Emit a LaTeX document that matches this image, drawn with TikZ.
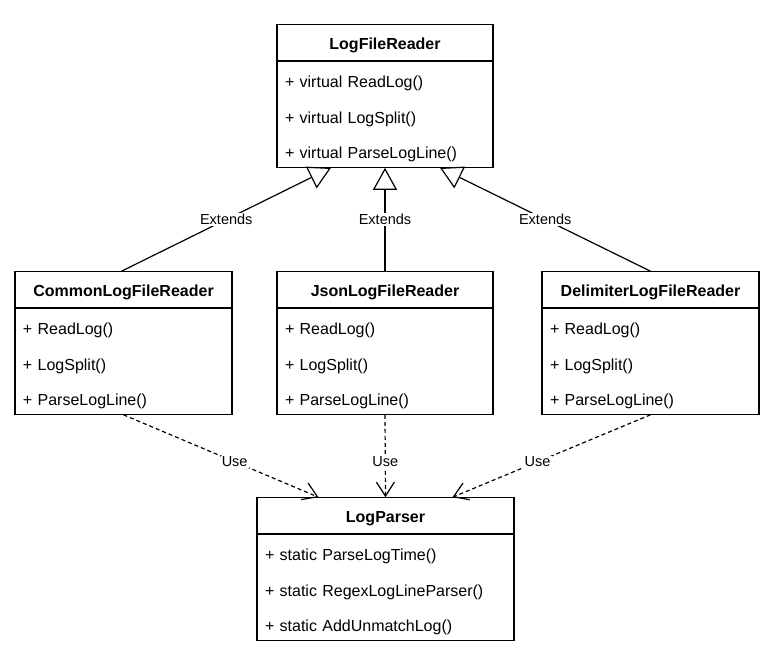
\documentclass[tikz,border=0pt]{standalone}
\usepackage{fontspec}
\setmainfont{Liberation Sans}
\usetikzlibrary{positioning, arrows.meta, shapes.multipart}
\tikzset{
    umlclass/.style={draw, line width=1.2pt, rectangle split, rectangle split parts=2, fill=white, inner xsep=8pt, inner ysep=0pt, align=left, font=\fontsize{16}{35.5}\selectfont},
    extarrow/.style={-{Triangle[open, length=22pt, width=24pt, fill=white]}, line width=1.2pt},
    usearrow/.style={-{Straight Barb[length=14pt, width=18pt]}, line width=1.2pt, dash pattern=on 4pt off 3pt},
    rellbl/.style={font=\fontsize{14.5}{17}\selectfont, fill=white, inner sep=1pt},
}
\newcommand{\clsname}[1]{\noindent\hbox to\hsize{\hfil\rule[-11pt]{0pt}{35pt}\textbf{#1}\hfil}}
\newcommand{\firstrow}{\rule{0pt}{26pt}}
\newcommand{\lastrow}{\rule[-8pt]{0pt}{8pt}}
\begin{document}
\begin{tikzpicture}[x=1pt, y=-1pt]
    \useasboundingbox (0,0) rectangle (780,662);
    \node[umlclass, text width=200pt] (lfr) at (385,96)    {\clsname{LogFileReader}\nodepart{second}\firstrow+ virtual ReadLog()\\+ virtual LogSplit()\\+ virtual ParseLogLine()\lastrow};
    \node[umlclass, text width=201pt] (cmn) at (123.5,343) {\clsname{CommonLogFileReader}\nodepart{second}\firstrow+ ReadLog()\\+ LogSplit()\\+ ParseLogLine()\lastrow};
    \node[umlclass, text width=200pt] (jsn) at (385,343)   {\clsname{JsonLogFileReader}\nodepart{second}\firstrow+ ReadLog()\\+ LogSplit()\\+ ParseLogLine()\lastrow};
    \node[umlclass, text width=201pt] (dlm) at (650.5,343) {\clsname{DelimiterLogFileReader}\nodepart{second}\firstrow+ ReadLog()\\+ LogSplit()\\+ ParseLogLine()\lastrow};
    \node[umlclass, text width=241pt] (lps) at (385.5,569) {\clsname{LogParser}\nodepart{second}\firstrow+ static ParseLogTime()\\+ static RegexLogLineParser()\\+ static AddUnmatchLog()\lastrow};
    % inheritance
    \draw[extarrow] ([xshift=-2pt]cmn.north) -- ([xshift=-54pt]lfr.south) node[rellbl, midway]{Extends};
    \draw[extarrow] (jsn.north) -- (lfr.south) node[rellbl, midway]{Extends};
    \draw[extarrow] (dlm.north) -- ([xshift=55pt]lfr.south) node[rellbl, midway]{Extends};
    % dependencies
    \draw[usearrow] (cmn.south) -- ([xshift=-67pt]lps.north) node[rellbl, pos=0.57]{Use};
    \draw[usearrow] (jsn.south) -- (lps.north) node[rellbl, pos=0.57]{Use};
    \draw[usearrow] (dlm.south) -- ([xshift=67pt]lps.north) node[rellbl, pos=0.57]{Use};
\end{tikzpicture}
\end{document}
